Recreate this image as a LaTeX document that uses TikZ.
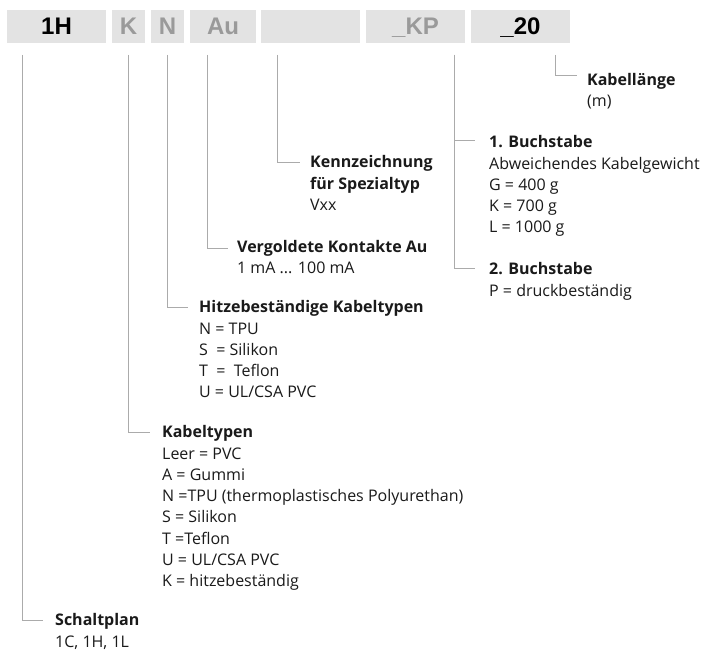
\documentclass[tikz,border=0pt]{standalone}
\usepackage{fontspec}
\setmainfont{Open Sans}
\newfontfamily\hdrfont{Liberation Sans}
\definecolor{boxgray}{HTML}{E3E3E3}
\definecolor{hdrgray}{HTML}{9A9A9A}
\definecolor{linegray}{HTML}{ABABAB}
\definecolor{textblack}{HTML}{1A1A1A}
\begin{document}
\begin{tikzpicture}[x=1pt,y=-1pt,
  hbox/.style={fill=boxgray, minimum height=33pt, inner sep=0pt,
    text height=17pt, text depth=0pt,
    font=\hdrfont\bfseries\fontsize{24}{24}\selectfont},
  conn/.style={draw=linegray, line width=0.9pt},
  lab/.style={anchor=base west, align=left, inner sep=0pt,
    font=\fontsize{16}{21.3}\selectfont, text=textblack}]
\useasboundingbox[fill=white] (0,0) rectangle (707,650);

% header boxes
\node[hbox, minimum width=99pt, text=black]   (b1) at (56.5,26.5)  {1H};
\node[hbox, minimum width=33pt, text=hdrgray] (b2) at (128.5,26.5) {K};
\node[hbox, minimum width=33pt, text=hdrgray] (b3) at (167.5,26.5) {N};
\node[hbox, minimum width=66pt, text=hdrgray] (b4) at (223,26.5)   {Au};
\node[hbox, minimum width=99pt]               (b5) at (310.5,26.5) {};
\node[hbox, minimum width=99pt, text=hdrgray] (b6) at (415.5,26.5) {\_KP};
\node[hbox, minimum width=99pt, text=black]   (b7) at (520.5,26.5) {\_20};

% line tops
\coordinate (t1) at (22.5,55);
\coordinate (t2) at (128,55);
\coordinate (t3) at (167,55);
\coordinate (t4) at (207,55);
\coordinate (t5) at (277,55);
\coordinate (t6) at (454,55);
\coordinate (t7) at (555,55);

% labels (anchored at the baseline of their last line)
\node[lab] (schalt) at (55,647) {\textbf{Schaltplan}\\1C, 1H, 1L};
\node[lab] (kabtyp) at (162,586.8) {\textbf{Kabeltypen}\\Leer = PVC\\A = Gummi\\N =TPU (thermoplastisches Polyurethan)\\S = Silikon\\T =Teflon\\U = UL/CSA PVC\\K = hitzebeständig};
\node[lab] (hitze) at (199,397.9) {\textbf{Hitzebeständige Kabeltypen}\\N = TPU\\S\ \ = Silikon\\T\ \ =\ \ Teflon\\U = UL/CSA PVC};
\node[lab] (gold) at (237,273.5) {\textbf{Vergoldete Kontakte Au}\\1 mA ... 100 mA};
\node[lab] (kenn) at (310,210.3) {\textbf{Kennzeichnung}\\\textbf{für Spezialtyp}\\Vxx};
\node[lab] (buch1) at (489,232.9) {\textbf{1. Buchstabe}\\Abweichendes Kabelgewicht\\G = 400 g\\K = 700 g\\L = 1000 g};
\node[lab] (buch2) at (489,296) {\textbf{2. Buchstabe}\\P = druckbeständig};
\node[lab] (laenge) at (587,107) {\textbf{Kabellänge}\\(m)};

% connectors
\draw[conn] (t1) |- ([shift={(-12,-27)}]schalt.base west);
\draw[conn] (t2) |- ([shift={(-12,-154.8)}]kabtyp.base west);
\draw[conn] (t3) |- ([shift={(-11,-90.9)}]hitze.base west);
\draw[conn] (t4) |- ([shift={(-9,-25.5)}]gold.base west);
\draw[conn] (t5) |- ([shift={(-10,-48.3)}]kenn.base west);
\draw[conn] (t6) |- ([shift={(-14,-92.9)}]buch1.base west);
\draw[conn] (t6) |- ([shift={(-14,-28)}]buch2.base west);
\draw[conn] (t7) |- ([shift={(-10,-32)}]laenge.base west);
\end{tikzpicture}
\end{document}
